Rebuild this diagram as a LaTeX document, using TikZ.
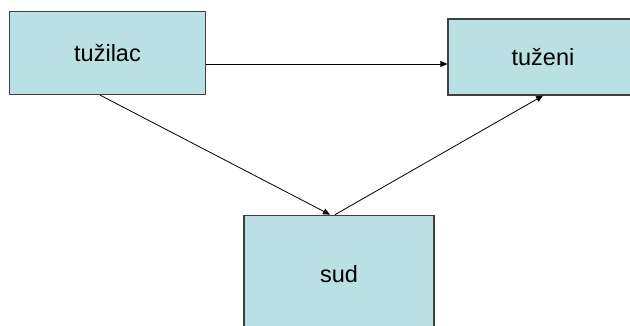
\documentclass[tikz,border=0pt]{standalone}
\usepackage{fontspec}
\setmainfont{Liberation Sans}
\usepackage{tikz}
\usetikzlibrary{arrows.meta}
\definecolor{boxfill}{RGB}{187,224,227}

\begin{document}
\begin{tikzpicture}[x=1pt,y=-1pt,
	party/.style={rectangle,draw=black!75,line width=1.2pt,fill=boxfill,inner sep=0pt,font=\fontsize{23.5}{28}\selectfont},
	link/.style={line width=0.8pt,-{Triangle[length=7pt,width=6pt]}}]
\useasboundingbox (0,0) rectangle (630,325);
\clip (0,0) rectangle (630,325);
\node[party,minimum width=196.5pt,minimum height=83pt] (tuzilac) at (107.5,53) {tužilac};
\node[party,minimum width=190pt,minimum height=76pt] (tuzeni) at (543,57) {tuženi};
\node[party,minimum width=190pt,minimum height=117.5pt] (sud) at (339,274) {sud};
\coordinate (h) at ([yshift=-11pt]tuzilac.east);
\draw[link] (h) -- (h -| tuzeni.west);
\draw[link] ([xshift=-7.5pt]tuzilac.south) -- ([xshift=-9pt]sud.north);
\draw[link] ([xshift=-4pt]sud.north) -- (tuzeni.south);
\end{tikzpicture}
\end{document}
